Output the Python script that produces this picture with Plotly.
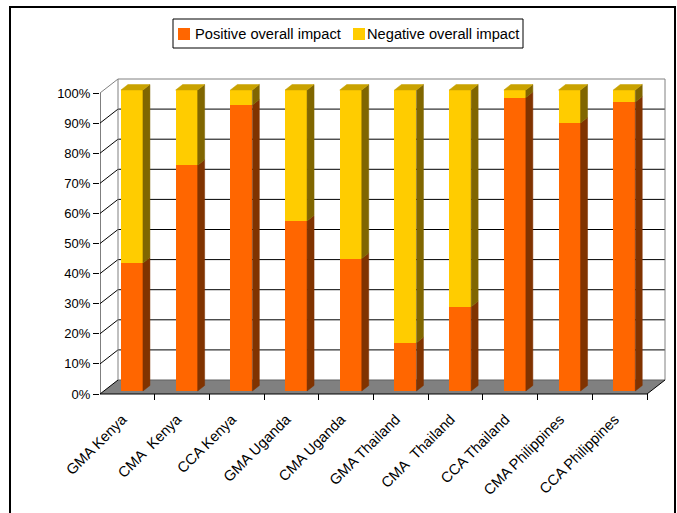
import plotly.graph_objects as go

# ---- data -------------------------------------------------------------
categories = ["GMA Kenya", "CMA  Kenya", "CCA Kenya", "GMA Uganda", "CMA Uganda",
              "GMA Thailand", "CMA  Thailand", "CCA Thailand", "CMA Philippines",
              "CCA Philippines"]
series_names = ["Positive overall impact", "Negative overall impact"]
positive = [42.5, 75, 95, 56.5, 44, 16, 28, 97.5, 89, 96]
negative = [57.5, 25, 5, 43.5, 56, 84, 72, 2.5, 11, 4]
y_ticks = [0, 10, 20, 30, 40, 50, 60, 70, 80, 90, 100]

# ---- colours ----------------------------------------------------------
ORANGE, ORANGE_SIDE = "#FF6600", "#803300"
YELLOW, YELLOW_SIDE, YELLOW_TOP = "#FFCC00", "#806600", "#C9A200"
WALL_EDGE, FLOOR = "#808080", "#808080"

# ---- page / plot-area geometry (pixels) -------------------------------
W, H = 677, 513
DOM_L, DOM_R, DOM_T, DOM_B = 100, 668, 76, 400
FRONT_L, FRONT_R, FRONT_Y0, FRONT_Y100 = 100, 647, 394, 93
n = len(categories)
PX_X = (FRONT_R - FRONT_L) / n            # pixels per category
PX_Y = (FRONT_Y0 - FRONT_Y100) / 100.0    # pixels per percent

x_lo = -0.5
x_hi = x_lo + (DOM_R - DOM_L) / PX_X
y_lo = -(DOM_B - FRONT_Y0) / PX_Y
y_hi = 100 + (FRONT_Y100 - DOM_T) / PX_Y

# pseudo-3D depth, in data units
WALL_DX, WALL_DY = 18 / PX_X, 14 / PX_Y
BAR_SHIFT, BAR_BASE = 4.6 / PX_X, 3 / PX_Y
BAR_W = 22 / PX_X
BAR_DX, BAR_DY = 7 / PX_X, 5.5 / PX_Y
LABEL_SHIFT = -5 / PX_X                   # rotated labels sit left of centre

LABEL_SIZE = 14.67
TICK_SIZE = 13


def paper_x(px):
    return (px - DOM_L) / (DOM_R - DOM_L)


def paper_y(py):
    return (DOM_B - py) / (DOM_B - DOM_T)


xs_idx = list(range(n))
bar_x = [i + BAR_SHIFT for i in xs_idx]
base_pos = [BAR_BASE] * n
top_pos = [BAR_BASE + p for p in positive]
top_neg = [t + q for t, q in zip(top_pos, negative)]

fig = go.Figure()

# front faces of the stacked columns
fig.add_trace(go.Bar(x=bar_x, y=positive, base=base_pos, width=BAR_W,
                     name=series_names[0], showlegend=False,
                     marker=dict(color=ORANGE, line=dict(width=0))))
fig.add_trace(go.Bar(x=bar_x, y=negative, base=top_pos, width=BAR_W,
                     name=series_names[1], showlegend=False,
                     marker=dict(color=YELLOW, line=dict(width=0))))


def side_poly(bottoms, tops):
    xs, ys = [], []
    for xc, b, t in zip(bar_x, bottoms, tops):
        xr = xc + BAR_W / 2
        xs += [xr, xr + BAR_DX, xr + BAR_DX, xr, xr, None]
        ys += [b, b + BAR_DY, t + BAR_DY, t, b, None]
    return xs, ys


def top_poly(tops):
    xs, ys = [], []
    for xc, t in zip(bar_x, tops):
        xl, xr = xc - BAR_W / 2, xc + BAR_W / 2
        xs += [xl, xr, xr + BAR_DX, xl + BAR_DX, xl, None]
        ys += [t, t, t + BAR_DY, t + BAR_DY, t, None]
    return xs, ys


for (px_, py_), col in [(side_poly(base_pos, top_pos), ORANGE_SIDE),
                        (side_poly(top_pos, top_neg), YELLOW_SIDE),
                        (top_poly(top_neg), YELLOW_TOP)]:
    fig.add_trace(go.Scatter(x=px_, y=py_, mode="lines", fill="toself",
                             fillcolor=col, line=dict(color=col, width=0.5),
                             showlegend=False, hoverinfo="skip"))

# invisible trace carrying the category-boundary tick axis
fig.add_trace(go.Scatter(x=[x_lo], y=[0], xaxis="x2", mode="markers",
                         marker=dict(opacity=0), showlegend=False,
                         hoverinfo="skip"))

# ---- walls, floor and gridlines --------------------------------------
shapes = []
xb0, xb1 = x_lo + WALL_DX, x_lo + n + WALL_DX


def seg(x0, y0, x1, y1, color="black", width=1):
    shapes.append(dict(type="line", xref="x", yref="y", x0=x0, y0=y0,
                       x1=x1, y1=y1, layer="below",
                       line=dict(color=color, width=width)))


floor_path = (f"M{x_lo},0 L{x_lo + n},0 L{xb1},{WALL_DY} "
              f"L{xb0},{WALL_DY} Z")
shapes.append(dict(type="path", xref="x", yref="y", path=floor_path,
                   fillcolor=FLOOR, line=dict(width=0), layer="below"))

for v in y_ticks[1:-1]:
    seg(xb0, v + WALL_DY, xb1, v + WALL_DY)
for v in y_ticks:
    seg(x_lo, v, xb0, v + WALL_DY,
        color=WALL_EDGE if v == 100 else "black")

seg(xb0, WALL_DY, xb0, 100 + WALL_DY, WALL_EDGE)
seg(xb0, 100 + WALL_DY, xb1, 100 + WALL_DY, WALL_EDGE)
seg(xb1, WALL_DY, xb1, 100 + WALL_DY, WALL_EDGE)
seg(xb0, WALL_DY, xb1, WALL_DY, "#606060")
seg(x_lo, 0, x_lo, 100)
seg(x_lo, 0, x_lo + n, 0)
seg(x_lo + n, 0, xb1, WALL_DY)

# chart-area frame
shapes.append(dict(type="rect", xref="paper", yref="paper",
                   x0=paper_x(10), x1=paper_x(675),
                   y0=paper_y(530), y1=paper_y(7),
                   line=dict(color="black", width=2), layer="above"))

# ---- legend box (swatch + label per series) ---------------------------
annotations = []
shapes.append(dict(type="rect", xref="paper", yref="paper",
                   x0=paper_x(173), x1=paper_x(523),
                   y0=paper_y(48), y1=paper_y(19),
                   line=dict(color="black", width=1), fillcolor="white",
                   layer="above"))
for name, col, sw_left, txt_left in [(series_names[0], ORANGE, 178, 193),
                                     (series_names[1], YELLOW, 353, 365)]:
    shapes.append(dict(type="rect", xref="paper", yref="paper",
                       x0=paper_x(sw_left), x1=paper_x(sw_left + 12),
                       y0=paper_y(40), y1=paper_y(28),
                       line=dict(width=0), fillcolor=col, layer="above"))
    annotations.append(dict(xref="paper", yref="paper", x=paper_x(txt_left),
                            y=paper_y(34), xanchor="left", yanchor="middle",
                            text=name, showarrow=False,
                            font=dict(size=LABEL_SIZE)))

tick_labels = [c.replace("  ", "\u00a0 ") for c in categories]

fig.update_layout(
    width=W, height=H,
    margin=dict(l=DOM_L, r=W - DOM_R, t=DOM_T, b=H - DOM_B, pad=0),
    paper_bgcolor="white", plot_bgcolor="white",
    font=dict(family="Liberation Sans, Arial, sans-serif", size=TICK_SIZE,
              color="black"),
    barmode="overlay", bargap=0,
    shapes=shapes, annotations=annotations,
    showlegend=False,
    xaxis=dict(range=[x_lo, x_hi], tickvals=[i + LABEL_SHIFT for i in xs_idx],
               ticktext=tick_labels,
               tickangle=-45, ticks="", showgrid=False, zeroline=False,
               showline=False, fixedrange=True, ticklabelstandoff=7,
               tickfont=dict(size=LABEL_SIZE)),
    xaxis2=dict(range=[x_lo, x_hi], overlaying="x", anchor="y",
                side="bottom",
                tickvals=[x_lo + k for k in range(n + 1)],
                ticks="inside", ticklen=6, tickcolor="black", tickwidth=1,
                showticklabels=False, showgrid=False, zeroline=False,
                showline=False),
    yaxis=dict(range=[y_lo, y_hi], tickvals=y_ticks,
               ticktext=[f"{v}%" for v in y_ticks],
               ticks="outside", ticklen=6, tickcolor="black",
               showgrid=False, zeroline=False, showline=False),
)

fig.write_html("out.html")
